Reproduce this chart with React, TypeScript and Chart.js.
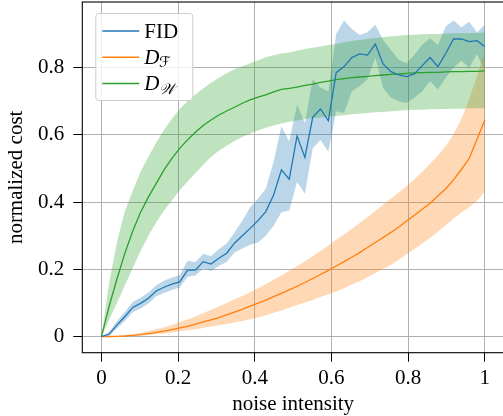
import React, { useEffect, useRef } from 'react';
import { Chart, registerables } from 'chart.js';

Chart.register(...registerables);

// noise intensity levels (50 levels from 0 to 1)
const noiseLevels = [
  0, 0.0204, 0.0408, 0.0612, 0.0816, 0.102, 0.1224, 0.1429, 0.1633, 0.1837,
  0.2041, 0.2245, 0.2449, 0.2653, 0.2857, 0.3061, 0.3265, 0.3469, 0.3673, 0.3878,
  0.4082, 0.4286, 0.449, 0.4694, 0.4898, 0.5102, 0.5306, 0.551, 0.5714, 0.5918,
  0.6122, 0.6327, 0.6531, 0.6735, 0.6939, 0.7143, 0.7347, 0.7551, 0.7755, 0.7959,
  0.8163, 0.8367, 0.8571, 0.8776, 0.898, 0.9184, 0.9388, 0.9592, 0.9796, 1,
];

const fidMean = [
  0, 0.008, 0.035, 0.06, 0.087, 0.099, 0.114, 0.136, 0.147, 0.156,
  0.163, 0.198, 0.198, 0.223, 0.216, 0.233, 0.248, 0.278, 0.3, 0.322,
  0.345, 0.372, 0.421, 0.496, 0.468, 0.597, 0.533, 0.652, 0.677, 0.642,
  0.785, 0.803, 0.83, 0.841, 0.837, 0.87, 0.811, 0.788, 0.778, 0.773,
  0.781, 0.806, 0.83, 0.803, 0.842, 0.885, 0.885, 0.877, 0.88, 0.862,
];
const fidUpper = [
  0, 0.014, 0.047, 0.074, 0.103, 0.116, 0.131, 0.153, 0.166, 0.176,
  0.183, 0.226, 0.222, 0.246, 0.24, 0.26, 0.277, 0.31, 0.345, 0.385,
  0.41, 0.44, 0.52, 0.625, 0.58, 0.69, 0.635, 0.765, 0.74, 0.73,
  0.9, 0.94, 0.915, 0.897, 0.905, 0.927, 0.882, 0.852, 0.823, 0.813,
  0.838, 0.868, 0.887, 0.868, 0.922, 0.94, 0.92, 0.936, 0.905, 0.927,
];
const fidLower = [
  0, 0.003, 0.025, 0.047, 0.073, 0.084, 0.099, 0.12, 0.13, 0.139,
  0.146, 0.178, 0.182, 0.203, 0.195, 0.21, 0.222, 0.25, 0.262, 0.273,
  0.28, 0.3, 0.33, 0.37, 0.375, 0.46, 0.425, 0.56, 0.585, 0.55,
  0.67, 0.665, 0.73, 0.745, 0.765, 0.83, 0.74, 0.71, 0.7, 0.695,
  0.71, 0.73, 0.76, 0.735, 0.77, 0.8, 0.82, 0.8, 0.84, 0.79,
];

const dfMean = [
  0, 0.0005, 0.001, 0.002, 0.004, 0.006, 0.0094, 0.0126, 0.0166, 0.021,
  0.026, 0.031, 0.037, 0.044, 0.05, 0.057, 0.065, 0.073, 0.081, 0.091,
  0.1, 0.109, 0.119, 0.129, 0.139, 0.15, 0.161, 0.173, 0.185, 0.197,
  0.21, 0.223, 0.236, 0.25, 0.265, 0.28, 0.295, 0.31, 0.326, 0.344,
  0.361, 0.379, 0.397, 0.418, 0.44, 0.466, 0.497, 0.53, 0.587, 0.644,
];
const dfUpper = [
  0, 0.001, 0.002, 0.004, 0.007, 0.0115, 0.017, 0.022, 0.028, 0.035,
  0.043, 0.051, 0.06, 0.07, 0.08, 0.09, 0.1, 0.111, 0.121, 0.132,
  0.144, 0.156, 0.169, 0.182, 0.196, 0.21, 0.224, 0.239, 0.255, 0.271,
  0.288, 0.304, 0.321, 0.338, 0.356, 0.374, 0.392, 0.411, 0.429, 0.447,
  0.468, 0.49, 0.514, 0.539, 0.567, 0.602, 0.647, 0.707, 0.774, 0.852,
];
const dfLower = [
  0, 0.0002, 0.0005, 0.001, 0.002, 0.003, 0.005, 0.007, 0.0095, 0.0125,
  0.016, 0.019, 0.022, 0.026, 0.03, 0.034, 0.038, 0.042, 0.047, 0.052,
  0.057, 0.064, 0.071, 0.078, 0.086, 0.094, 0.102, 0.109, 0.118, 0.126,
  0.134, 0.144, 0.155, 0.165, 0.177, 0.189, 0.201, 0.214, 0.229, 0.245,
  0.261, 0.277, 0.294, 0.312, 0.331, 0.351, 0.369, 0.385, 0.404, 0.431,
];

const dwMean = [
  0, 0.092, 0.173, 0.249, 0.314, 0.37, 0.415, 0.456, 0.496, 0.53,
  0.56, 0.585, 0.608, 0.628, 0.644, 0.659, 0.671, 0.682, 0.694, 0.704,
  0.712, 0.719, 0.728, 0.735, 0.738, 0.742, 0.747, 0.751, 0.756, 0.76,
  0.764, 0.767, 0.77, 0.772, 0.774, 0.776, 0.778, 0.78, 0.781, 0.783,
  0.784, 0.785, 0.786, 0.786, 0.787, 0.788, 0.788, 0.789, 0.789, 0.79,
];
const dwUpper = [
  0, 0.162, 0.284, 0.374, 0.434, 0.49, 0.535, 0.577, 0.615, 0.648,
  0.677, 0.701, 0.72, 0.738, 0.755, 0.77, 0.783, 0.795, 0.804, 0.813,
  0.822, 0.831, 0.837, 0.842, 0.845, 0.85, 0.855, 0.859, 0.863, 0.867,
  0.87, 0.875, 0.879, 0.882, 0.885, 0.888, 0.89, 0.893, 0.895, 0.897,
  0.898, 0.899, 0.9, 0.9, 0.901, 0.902, 0.902, 0.903, 0.903, 0.904,
];
const dwLower = [
  0, 0.051, 0.102, 0.153, 0.204, 0.255, 0.3, 0.34, 0.375, 0.405,
  0.435, 0.461, 0.486, 0.511, 0.534, 0.553, 0.568, 0.582, 0.594, 0.604,
  0.613, 0.621, 0.628, 0.634, 0.639, 0.643, 0.647, 0.65, 0.652, 0.654,
  0.656, 0.658, 0.661, 0.663, 0.665, 0.667, 0.668, 0.67, 0.672, 0.674,
  0.675, 0.675, 0.676, 0.677, 0.677, 0.678, 0.678, 0.679, 0.679, 0.679,
];

const xTicks = [0, 0.2, 0.4, 0.6, 0.8, 1];
const yTicks = [0, 0.2, 0.4, 0.6, 0.8];
const xTitle = 'noise intensity';
const yTitle = 'normalized cost';
const legendItems = [
  { main: 'FID', sub: '', color: '#1f77b4' },
  { main: 'D', sub: 'ℱ', color: '#ff7f0e' },
  { main: 'D', sub: '𝒲', color: '#2ca02c' },
];

const SERIF = '"Liberation Serif", "Times New Roman", serif';

const pts = (ys: number[]) => noiseLevels.map((x, i) => ({ x, y: ys[i] }));
const fmt = (v: number) => String(Math.round(v * 10) / 10);

const framePlugin = {
  id: 'frame',
  afterDatasetsDraw(chart: any) {
    const { ctx, chartArea: a } = chart;
    ctx.save();
    ctx.strokeStyle = '#000';
    ctx.lineWidth = 1.1;
    ctx.strokeRect(a.left, a.top, a.right - a.left, a.bottom - a.top);
    ctx.restore();
  },
};

const legendPlugin = {
  id: 'texLegend',
  afterDraw(chart: any) {
    const { ctx, chartArea: a } = chart;
    const bx = a.left + 13.5;
    const by = a.top + 11.5;
    const bw = 97;
    const bh = 87;
    ctx.save();
    ctx.beginPath();
    ctx.roundRect(bx, by, bw, bh, 3);
    ctx.fillStyle = 'rgba(255,255,255,0.8)';
    ctx.fill();
    ctx.strokeStyle = '#cccccc';
    ctx.lineWidth = 1;
    ctx.stroke();
    legendItems.forEach((it, i) => {
      const ry = by + 17.5 + i * 26.3;
      ctx.beginPath();
      ctx.strokeStyle = it.color;
      ctx.lineWidth = 1.5;
      ctx.moveTo(bx + 6.5, ry);
      ctx.lineTo(bx + 43.5, ry);
      ctx.stroke();
      ctx.fillStyle = '#000';
      ctx.textBaseline = 'alphabetic';
      ctx.textAlign = 'left';
      const tx = bx + 48.5;
      if (!it.sub) {
        ctx.font = `21px ${SERIF}`;
        ctx.fillText(it.main, tx, ry + 6.5);
      } else {
        ctx.font = `italic 21px ${SERIF}`;
        ctx.fillText(it.main, tx, ry + 6.6);
        const w = ctx.measureText(it.main).width;
        ctx.font = `italic 15px "DejaVu Serif", "DejaVu Sans", ${SERIF}`;
        ctx.fillText(it.sub, tx + w - 0.5, ry + 10);
      }
    });
    ctx.restore();
  },
};

export default function App() {
  const ref = useRef<HTMLCanvasElement | null>(null);

  useEffect(() => {
    if (!ref.current) return;
    const lineDs = (label: string, data: number[], color: string) => ({
      label,
      data: pts(data),
      borderColor: color,
      backgroundColor: color,
      borderWidth: 1.3,
      pointRadius: 0,
      fill: false,
    });
    const bandUpper = (data: number[], fillColor: string) => ({
      label: '',
      data: pts(data),
      borderColor: 'transparent',
      borderWidth: 0,
      pointRadius: 0,
      backgroundColor: fillColor,
      fill: '+1',
    });
    const bandLower = (data: number[]) => ({
      label: '',
      data: pts(data),
      borderColor: 'transparent',
      borderWidth: 0,
      pointRadius: 0,
      fill: false,
    });

    const tickFont = { family: SERIF, size: 21 };
    const chart = new Chart(ref.current, {
      type: 'line',
      data: {
        datasets: [
          lineDs('FID', fidMean, '#1f77b4'),
          lineDs('D_F', dfMean, '#ff7f0e'),
          lineDs('D_W', dwMean, '#2ca02c'),
          bandUpper(dwUpper, 'rgba(44,160,44,0.3)'),
          bandLower(dwLower),
          bandUpper(dfUpper, 'rgba(255,127,14,0.3)'),
          bandLower(dfLower),
          bandUpper(fidUpper, 'rgba(31,119,180,0.3)'),
          bandLower(fidLower),
        ] as any,
      },
      options: {
        animation: false,
        responsive: false,
        devicePixelRatio: 1,
        layout: { padding: { left: 0, right: 0, top: 2, bottom: 0 } },
        plugins: {
          legend: { display: false },
          tooltip: { enabled: false },
        },
        elements: { line: { tension: 0 }, point: { radius: 0 } },
        scales: {
          x: {
            type: 'linear',
            min: -0.05,
            max: 1.05,
            afterBuildTicks: (s: any) => {
              s.ticks = xTicks.map((v) => ({ value: v }));
            },
            afterFit: (s: any) => {
              s.height = 63.3;
              s.paddingLeft = 0;
              s.paddingRight = 0;
            },
            border: { display: false },
            grid: {
              color: '#b0b0b0',
              lineWidth: 1,
              drawTicks: true,
              tickColor: '#000',
              tickLength: 9,
              tickWidth: 1,
            },
            ticks: {
              font: tickFont,
              color: '#000',
              padding: 4,
              maxRotation: 0,
              autoSkip: false,
              callback: (v: any) => fmt(Number(v)),
            },
            title: {
              display: true,
              text: xTitle,
              color: '#000',
              font: { family: SERIF, size: 21 },
              padding: { top: 0, bottom: -1 },
            },
          },
          y: {
            type: 'linear',
            min: -0.0476,
            max: 0.995,
            afterBuildTicks: (s: any) => {
              s.ticks = yTicks.map((v) => ({ value: v }));
            },
            afterFit: (s: any) => {
              s.width = 82.3;
              s.paddingTop = 0;
              s.paddingBottom = 0;
            },
            border: { display: false },
            grid: {
              color: '#b0b0b0',
              lineWidth: 1,
              drawTicks: true,
              tickColor: '#000',
              tickLength: 9,
              tickWidth: 1,
            },
            ticks: {
              font: tickFont,
              color: '#000',
              padding: 9,
              autoSkip: false,
              callback: (v: any) => fmt(Number(v)),
            },
            title: {
              display: true,
              text: yTitle,
              color: '#000',
              font: { family: SERIF, size: 21 },
              padding: { top: 3.6, bottom: 0 },
            },
          },
        },
      } as any,
      plugins: [framePlugin, legendPlugin],
    });
    return () => chart.destroy();
  }, []);

  return (
    <div
      style={{
        position: 'fixed',
        left: 0,
        top: 0,
        width: 503,
        height: 416,
        overflow: 'hidden',
        background: '#fff',
      }}
    >
      <canvas ref={ref} width={504} height={416} style={{ display: 'block' }} />
    </div>
  );
}
